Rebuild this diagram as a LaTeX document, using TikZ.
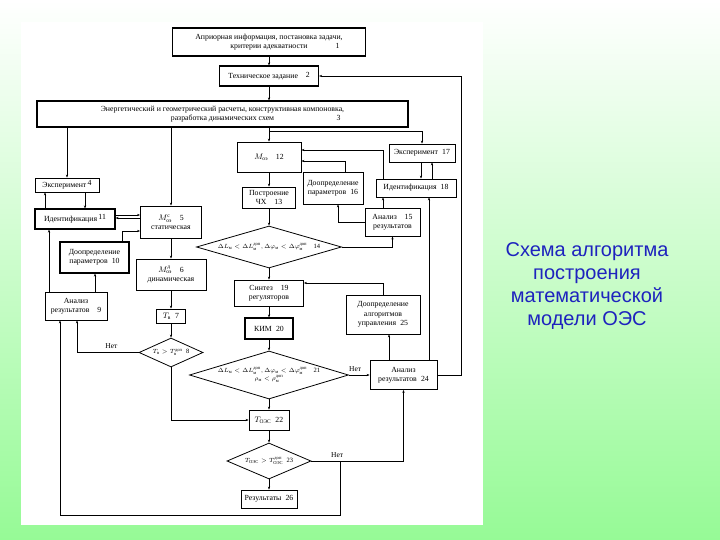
\documentclass[tikz,border=0pt]{standalone}
\usepackage{fontspec}
\usepackage{amsmath}
\setmainfont{Liberation Serif}
\newfontfamily\titlefont{Liberation Sans}
\usetikzlibrary{arrows.meta, shapes.geometric}
\definecolor{titleblue}{RGB}{30,35,190}
\definecolor{bggreen}{RGB}{150,250,150}

\begin{document}
\begin{tikzpicture}[x=1pt, y=-1pt,
  box/.style={draw, rectangle, line width=0.7pt, align=center, inner sep=1pt,
              font=\fontsize{7.8}{9.3}\selectfont},
  thickbox/.style={box, line width=1.1pt},
  dbox/.style={draw, diamond, line width=0.8pt, align=center, inner sep=-1pt,
               font=\fontsize{6.5}{8}\selectfont},
  arr/.style={line width=0.6pt, -{Stealth[length=3pt, width=2.2pt]}},
  notext/.style={font=\fontsize{7.5}{8}\selectfont, above},
]

% ── Background and sheet ───────────────────────────────────────────────
\useasboundingbox (0,0) rectangle (720,540);
\shade[top color=white, bottom color=bggreen] (0,0) rectangle (720,540);
\fill[white] (21,22) rectangle (483,525);

% ── Title ──────────────────────────────────────────────────────────────
\node[font=\titlefont\fontsize{20}{23.3}\selectfont, text=titleblue, align=center]
  (title) at (587,286) {Схема алгоритма\\построения\\математической\\модели ОЭС};

% ── Top blocks ─────────────────────────────────────────────────────────
\node[thickbox, minimum width=193, minimum height=28] (b1) at (269,42)
  {Априорная информация, постановка задачи,\\критерии адекватности\rlap{\hspace{3.6em}1}};
\node[thickbox, minimum width=99, minimum height=20] (b2) at (269,76)
  {Техническое задание\quad\raisebox{1.5pt}{2}};
\node[thickbox, minimum width=371, minimum height=26] (b3) at (222.5,114)
  {Энергетический и геометрический расчеты, конструктивная компоновка,\\
   разработка динамических схем\rlap{\hspace{8em}3}};

% ── Left branch ────────────────────────────────────────────────────────
\node[box, minimum width=64, minimum height=14] (b4) at (67,185)
  {Эксперимент\,\raisebox{2pt}{4}};
\node[thickbox, minimum width=80, minimum height=20] (b11) at (75,219)
  {Идентификация\,\raisebox{2pt}{11}};
\node[thickbox, minimum width=69, minimum height=31] (b10) at (94.5,257.5)
  {Доопределение\\параметров\; 10};
\node[box, minimum width=62, minimum height=28] (b9) at (76,306)
  {Анализ\\результатов\quad 9};
\node[box, minimum width=61, minimum height=32] (b5) at (171,222)
  {$M^{\text{с}}_{\text{оэ}}$\quad 5\\статическая};
\node[box, minimum width=70, minimum height=31] (b6) at (171,274.5)
  {$M^{\text{д}}_{\text{оэ}}$\quad 6\\динамическая};
\node[box, minimum width=29, minimum height=14] (b7) at (171,316)
  {$T_{\text{в}}$\; 7};
\node[dbox, aspect=2.2, minimum width=64, minimum height=29] (d8) at (171,352.5)
  {$T_{\text{в}} > T_{\text{в}}^{\text{доп}}$\; 8};

% ── Middle column ──────────────────────────────────────────────────────
\node[box, minimum width=64, minimum height=30] (b12) at (269,157)
  {$M_{\text{оэ}}$\quad 12};
\node[box, minimum width=53, minimum height=21] (b13) at (269,197.5)
  {Построение\\ЧХ\quad 13};
\node[dbox, aspect=3.45, minimum width=145, minimum height=42] (d14) at (269,247)
  {$\Delta L_{\text{м}} < \Delta L_{\text{м}}^{\text{доп}},
    \Delta\varphi_{\text{м}} < \Delta\varphi_{\text{м}}^{\text{доп}}$\quad 14};
\node[box, minimum width=69, minimum height=26] (b19) at (269,293)
  {Синтез\quad 19\\регуляторов};
\node[thickbox, minimum width=48, minimum height=21] (b20) at (269,328.5)
  {КИМ\; 20};
\node[dbox, aspect=3.3, minimum width=159, minimum height=48] (d21) at (269,375)
  {$\Delta L_{\text{м}} < \Delta L_{\text{м}}^{\text{доп}},
    \Delta\varphi_{\text{м}} < \Delta\varphi_{\text{м}}^{\text{доп}}$\quad 21\\
   $\rho_{\text{м}} < \rho_{\text{м}}^{\text{доп}}$};
\node[box, minimum width=40, minimum height=20] (b22) at (269,420)
  {$T_{\text{ОЭС}}$\; 22};
\node[dbox, aspect=2.33, minimum width=84, minimum height=36] (d23) at (269,461)
  {$T_{\text{ОЭС}} > T_{\text{ОЭС}}^{\text{доп}}$\; 23};
\node[box, minimum width=56, minimum height=18] (b26) at (269,499)
  {Результаты\; 26};

% ── Right branch ───────────────────────────────────────────────────────
\node[box, minimum width=66, minimum height=18] (b17) at (422,153)
  {Эксперимент\; 17};
\node[box, minimum width=60, minimum height=32] (b16) at (333,188)
  {Доопределение\\параметров\; 16};
\node[box, minimum width=80, minimum height=18] (b18) at (416,188)
  {Идентификация\; 18};
\node[box, minimum width=55, minimum height=28] (b15) at (392.5,222)
  {Анализ\quad 15\\результатов};
\node[box, minimum width=74, minimum height=39] (b25) at (383,314.5)
  {Доопределение\\алгоритмов\\управления\; 25};
\node[box, minimum width=67, minimum height=29] (b24) at (403.5,375)
  {Анализ\\результатов\; 24};

% ── Main flow ──────────────────────────────────────────────────────────
\draw[arr] (b1) -- (b2);
\draw[arr] (b2) -- (b2 |- b3.north);
\draw[arr] (b4 |- b3.south) -- (b4);
\draw[arr] (b5 |- b3.south) -- (b5);
\draw[arr] (b12 |- b3.south) -- (b12);
\coordinate (split17) at (269,131);
\draw[arr] (split17) -| (b17);

\draw[arr] (b12) -- (b13);
\draw[arr] (b13) -- (d14);
\draw[arr] (d14) -- (b19);
\draw[arr] (b19) -- (b20);
\draw[arr] (b20) -- (d21);
\draw[arr] (d21) -- (b22);
\draw[arr] (b22) -- (d23);
\draw[arr] (d23) -- (b26);

\draw[arr] (b5) -- (b6);
\draw[arr] (b6) -- (b7);
\draw[arr] (b7) -- (d8);

% ── Right loops ────────────────────────────────────────────────────────
\draw[arr] (d14.east) -| (b15);
\draw[arr] (b15.west) -| ([xshift=5pt]b16.south);
\draw[arr] ([xshift=12pt]b16.north) |- (b12.east |- 0,161);
\draw[arr] ([xshift=-33pt]b18.north) |- (b12.east |- 0,150);
\draw[arr] ([xshift=-9.5pt]b15.north) -- ([xshift=-9.5pt]b15.north |- b18.south);
\draw[arr] ([xshift=-1pt]b17.south) -- ([xshift=-1pt]b17.south |- b18.north);
\draw[arr] ([xshift=10pt]b17.south |- b18.north) -- ([xshift=10pt]b17.south);

% ── Left loops ─────────────────────────────────────────────────────────
\draw[arr] ([xshift=-22pt]b4.south |- b11.north) -- ([xshift=-22pt]b4.south);
\draw[arr] ([xshift=18pt]b4.south) -- ([xshift=18pt]b4.south |- b11.north);
\draw[arr] ([yshift=4pt]b11.east) -- ([yshift=4pt]b11.east -| b5.west);
\draw[arr] ([yshift=1pt]b11.east -| b5.west) -- ([yshift=1pt]b11.east);
\draw[arr] ([xshift=27.5pt]b10.north) |- (b5.west |- 0,231);
\draw[arr] ([xshift=19pt]b9.north) -- ([xshift=19pt]b9.north |- b10.south);
\draw[arr] ([xshift=-27pt]b9.north) -- ([xshift=-27pt]b9.north |- b11.south);
\draw[arr] (d8.west) -| ([xshift=1pt]b9.south) node[notext, pos=0.22] (no8) {Нет};
\draw[arr] (d8.south) |- (b22.west);

% ── "No" exits ─────────────────────────────────────────────────────────
\draw[arr] (d21.east) -- (b24.west) node[notext, pos=0.3] (no21) {Нет};
\draw[arr] (d23.east) -| (b24.south) node[notext, pos=0.14] (no23) {Нет};
\coordinate (lowleft) at (60,515);
\draw[arr] (d23.east -| 340,0) |- (lowleft) -- (lowleft |- b9.south);
\draw[arr] ([xshift=-14.5pt]b24.north) -- ([xshift=-14.5pt]b24.north |- b25.south);
\draw[arr] (b25.north) |- (b19.east |- 0,283);
\draw[arr] ([xshift=25.5pt]b24.north) -- ([xshift=25.5pt]b24.north |- b18.south);
\draw[arr] (b24.east) -- (b24.east -| 461,0) |- (b2.east);

\end{tikzpicture}
\end{document}
